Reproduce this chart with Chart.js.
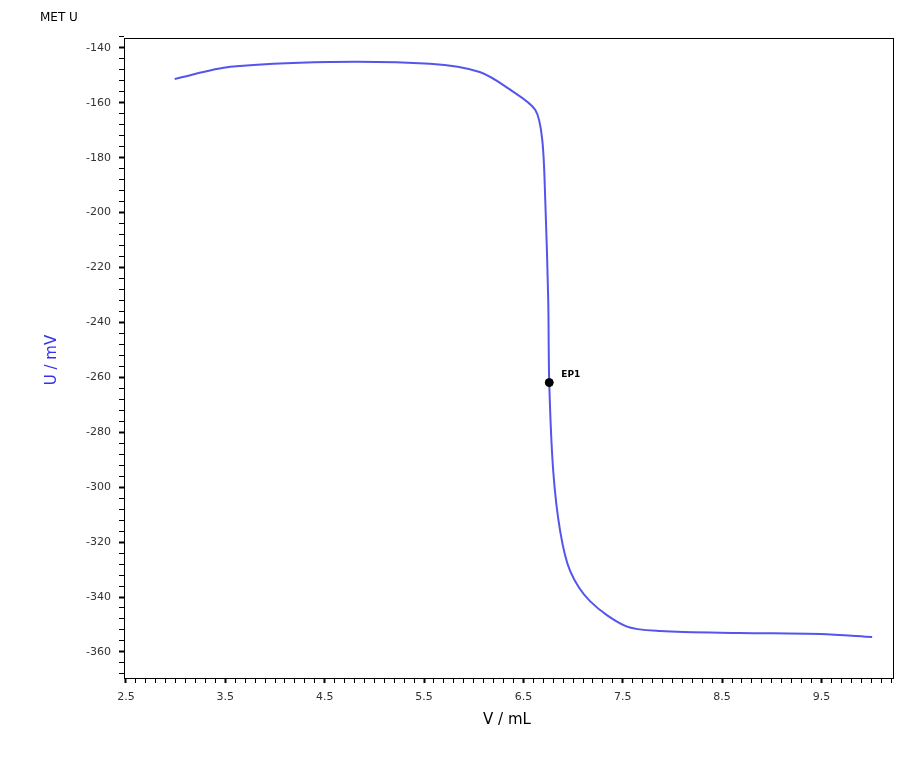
<!DOCTYPE html>
<html>
<head>
<meta charset="utf-8">
<script src="https://cdn.jsdelivr.net/npm/chart.js@4/dist/chart.umd.min.js"></script>
<style>
  body { margin: 0; background: #fff; }
  #wrap { width: 918px; height: 778px; }
</style>
</head>
<body>
<div id="wrap"><canvas id="titration"></canvas></div>
<script>
// curve
const volumes = [2.99, 3.55, 4.55, 5.56, 6.06, 6.37, 6.62, 6.69, 6.72, 6.75, 6.76, 6.80, 6.87, 6.97, 7.17, 7.53, 7.88, 8.68, 9.49, 10.01];
const potentials = [-151.3, -146.9, -145.1, -145.8, -148.8, -155.3, -162.6, -173.6, -195.5, -232, -261.9, -294, -316, -330.5, -341.5, -350.6, -352.4, -353.1, -353.5, -354.6];
const endPoint = { x: 6.76, y: -261.9, label: 'EP1' };
const xLabels = [2.5, 3.5, 4.5, 5.5, 6.5, 7.5, 8.5, 9.5];
const yLabels = [-140, -160, -180, -200, -220, -240, -260, -280, -300, -320, -340, -360];

const font = '"DejaVu Sans", sans-serif';

// frame, titles, EP label
const decor = {
    id: 'decor',
    afterDraw(chart) {
        const c = chart.ctx;
        const a = chart.chartArea;
        c.save();
        c.strokeStyle = '#000';
        c.lineWidth = 1;
        c.strokeRect(a.left + 0.5, a.top + 0.5, a.right - a.left, a.bottom - a.top);
        c.fillStyle = '#000';
        c.font = '12px ' + font;
        c.textBaseline = 'middle';
        c.fillText('MET U', 40, 18);
        c.font = '15px ' + font;
        c.textAlign = 'center';
        c.fillText('V / mL', 507, 720);
        c.save();
        c.translate(52, 360);
        c.rotate(-Math.PI / 2);
        c.fillStyle = '#3333ee';
        c.fillText('U / mV', 0, 0);
        c.restore();
        const px = chart.scales.x.getPixelForValue(endPoint.x);
        const py = chart.scales.y.getPixelForValue(endPoint.y);
        c.font = 'bold 9px ' + font;
        c.textAlign = 'left';
        c.fillStyle = '#000';
        c.fillText(endPoint.label, px + 12, py - 8);
        c.restore();
    }
};

function isLabelled(v, list) {
    return list.some(t => Math.abs(t - v) < 1e-6);
}

new Chart(document.getElementById('titration'), {
    type: 'scatter',
    data: {
        datasets: [{
            data: volumes.map((v, i) => ({ x: v, y: potentials[i] })),
            showLine: true,
            borderColor: '#5555ee',
            borderWidth: 2,
            pointRadius: 0,
            tension: 0.3,
            order: 2
        }, {
            data: [{ x: endPoint.x, y: endPoint.y }],
            pointRadius: 4,
            backgroundColor: '#000',
            borderColor: '#000',
            order: 1
        }]
    },
    options: {
        responsive: true,
        maintainAspectRatio: false,
        animation: false,
        layout: { padding: { top: 38, right: 25, left: 0, bottom: 0 } },
        plugins: { legend: { display: false }, tooltip: { enabled: false } },
        scales: {
            x: {
                type: 'linear',
                min: 2.48,
                max: 10.22,
                afterFit(s) { s.height = 100; },
                afterBuildTicks(s) {
                    const t = [];
                    for (let i = 25; i <= 102; i++) t.push({ value: i / 10 });
                    s.ticks = t;
                },
                grid: {
                    drawOnChartArea: false,
                    tickLength: 5,
                    tickColor: '#000',
                    tickWidth: ctx => isLabelled(ctx.tick.value, xLabels) ? 2 : 1
                },
                border: { display: false },
                ticks: {
                    autoSkip: false,
                    maxRotation: 0,
                    color: '#333',
                    font: { size: 11, family: font },
                    padding: 8,
                    callback: v => isLabelled(v, xLabels) ? v.toFixed(1) : ''
                }
            },
            y: {
                min: -369.5,
                max: -136.4,
                afterFit(s) { s.width = 124; },
                afterBuildTicks(s) {
                    const t = [];
                    for (let v = -368; v <= -136; v += 4) t.push({ value: v });
                    s.ticks = t;
                },
                grid: {
                    drawOnChartArea: false,
                    tickLength: 5,
                    tickColor: '#000',
                    tickWidth: ctx => isLabelled(ctx.tick.value, yLabels) ? 2 : 1
                },
                border: { display: false },
                ticks: {
                    autoSkip: false,
                    color: '#333',
                    font: { size: 11, family: font },
                    padding: 8,
                    callback: v => isLabelled(v, yLabels) ? String(v) : ''
                }
            }
        }
    },
    plugins: [decor]
});
</script>
</body>
</html>
